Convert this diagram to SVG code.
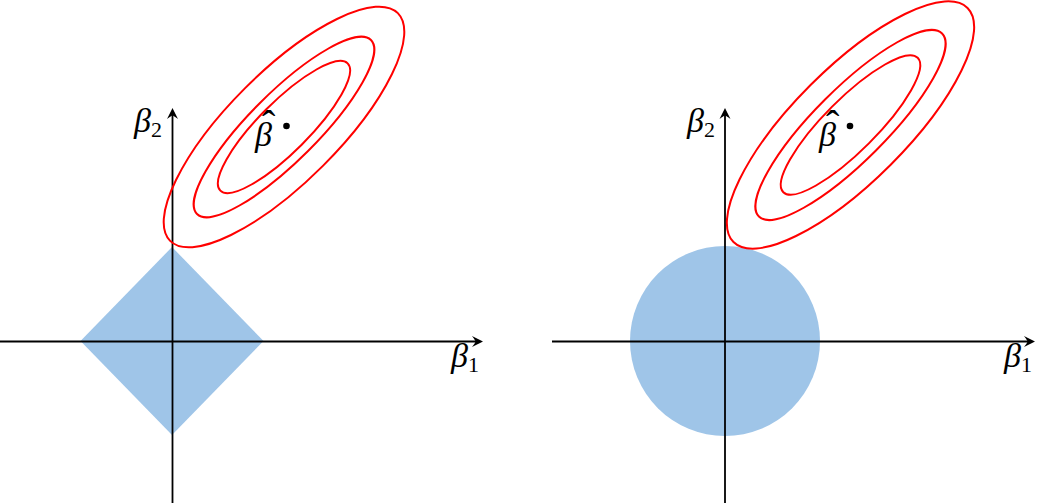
<svg xmlns="http://www.w3.org/2000/svg" width="1050" height="504" viewBox="0 0 1050 504">
<style>
.axis{stroke:#000;stroke-width:1.8;fill:none}
.contour{fill:none;stroke:#ff0000;stroke-width:2}
.region{fill:#9fc5e8;stroke:none}
.lbl{font-family:"Liberation Serif","DejaVu Serif",serif;font-style:italic;font-size:34px;fill:#000}
.sub{font-family:"Liberation Serif","DejaVu Serif",serif;font-style:normal;font-size:22px;fill:#000}
.hat{font-style:normal;font-size:40px}
.dot{fill:#000}
</style>
<defs>
<marker id="arr" markerUnits="userSpaceOnUse" markerWidth="16" markerHeight="14" viewBox="-5 -7 16 14" refX="0" refY="0" orient="auto">
<path d="M7,0 L-4,-5.5 Q-0.5,-1 -0.5,0 Q-0.5,1 -4,5.5 Z" fill="#000"/>
</marker>
</defs>
<rect width="1050" height="504" fill="#fff"/>

<g id="lasso-region"><polygon class="region" points="172,247 263.5,341 172,435 80.5,341"/></g>
<g id="ridge-region"><circle class="region" cx="725" cy="341" r="95"/></g>

<g id="axes">
<line class="axis" x1="0" y1="341.5" x2="476" y2="341.5" marker-end="url(#arr)"/>
<line class="axis" x1="172.5" y1="503" x2="172.5" y2="115" marker-end="url(#arr)"/>
<line class="axis" x1="552" y1="341.5" x2="1028" y2="341.5" marker-end="url(#arr)"/>
<line class="axis" x1="725" y1="503" x2="725" y2="115" marker-end="url(#arr)"/>
</g>

<g id="lasso-contours">
<ellipse class="contour" cx="284" cy="127" rx="161" ry="55" transform="rotate(-45 284 127)"/>
<ellipse class="contour" cx="284" cy="127" rx="123" ry="34" transform="rotate(-45 284 127)"/>
<ellipse class="contour" cx="284" cy="127" rx="90" ry="25" transform="rotate(-45 284 127)"/>
<circle class="dot" cx="286.5" cy="126" r="3.3"/>
</g>

<g id="ridge-contours">
<ellipse class="contour" cx="850.5" cy="125" rx="165.5" ry="56.5" transform="rotate(-45 850.5 125)"/>
<ellipse class="contour" cx="850.5" cy="125" rx="129.5" ry="36" transform="rotate(-45 850.5 125)"/>
<ellipse class="contour" cx="850.5" cy="125" rx="95" ry="26" transform="rotate(-45 850.5 125)"/>
<circle class="dot" cx="850" cy="126" r="3.3"/>
</g>

<g id="labels-left">
<text class="lbl" x="134" y="132">β</text><text class="sub" x="151" y="137">2</text>
<text class="lbl" x="451" y="367">β</text><text class="sub" x="468" y="372">1</text>
<text class="lbl" x="255" y="146">β<tspan class="hat" dx="-10" dy="-8">ˆ</tspan></text>
</g>

<g id="labels-right">
<text class="lbl" x="687" y="132">β</text><text class="sub" x="704" y="137">2</text>
<text class="lbl" x="1004" y="367">β</text><text class="sub" x="1021" y="372">1</text>
<text class="lbl" x="819" y="146">β<tspan class="hat" dx="-10" dy="-8">ˆ</tspan></text>
</g>
</svg>
